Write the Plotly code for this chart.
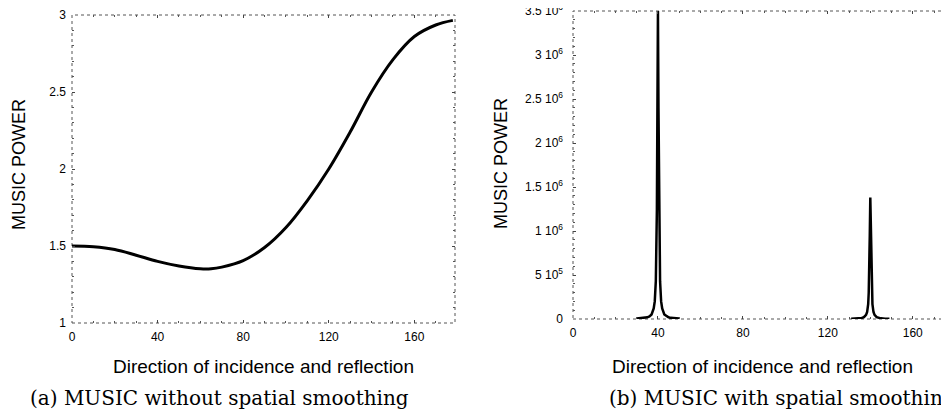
import plotly.graph_objects as go

# ---- data ----
angle_a = [0, 10, 20, 30, 40, 50, 60, 65, 70, 80, 90, 100, 110, 120, 130, 140, 150, 160, 170, 178]
power_a = [1.50, 1.495, 1.477, 1.44, 1.40, 1.37, 1.352, 1.352, 1.363, 1.405, 1.49, 1.62, 1.795, 2.0, 2.24, 2.50, 2.71, 2.86, 2.935, 2.965]

angle_b1 = [30, 32, 34, 35, 36, 37, 38, 38.5, 39, 39.25, 39.5, 39.75, 40, 40.25, 40.5, 40.75, 41, 41.5, 42, 43, 44, 45, 46, 48, 50]
power_b1 = [5e3, 8e3, 1.3e4, 1.9e4, 3e4, 5.2e4, 1.2e5, 2e5, 4.3e5, 7.5e5, 1.24e6, 2.4e6, 3.5e6, 2.4e6, 1.24e6, 7.5e5, 4.3e5, 2e5, 1.2e5, 5.2e4, 3e4, 1.9e4, 1.3e4, 8e3, 5e3]
angle_b2 = [131, 133, 135, 136, 137, 138, 138.5, 139, 139.25, 139.5, 139.75, 140, 140.25, 140.5, 140.75, 141, 141.5, 142, 143, 144, 145, 147, 149]
power_b2 = [2.5e3, 4e3, 7.5e3, 1.2e4, 2.1e4, 4.7e4, 7.9e4, 1.7e5, 2.96e5, 4.9e5, 9.5e5, 1.38e6, 9.5e5, 4.9e5, 2.96e5, 1.7e5, 7.9e4, 4.7e4, 2.1e4, 1.2e4, 7.5e3, 4e3, 2.5e3]

x_ticks = [0, 40, 80, 120, 160]
ya_ticks = [1, 1.5, 2, 2.5, 3]
ya_text = ["1", "1.5", "2", "2.5", "3"]
yb_ticks = [0, 5e5, 1e6, 1.5e6, 2e6, 2.5e6, 3e6, 3.5e6]
yb_text = ["0", "5 10<sup>5</sup>", "1 10<sup>6</sup>", "1.5 10<sup>6</sup>", "2 10<sup>6</sup>",
           "2.5 10<sup>6</sup>", "3 10<sup>6</sup>", "3.5 10<sup>6</sup>"]

x_title = "Direction of incidence and reflection"
y_title = "MUSIC POWER"
cap_a = "(a) MUSIC without spatial smoothing"
cap_b = "(b) MUSIC with spatial smoothing"

W, H = 949, 419
OFF = 8  # page body margin
def px(x): return (x - OFF) / W
def py(y): return 1 - (y - OFF) / H

fig = go.Figure()
fig.add_trace(go.Scatter(x=angle_a, y=power_a, mode="lines", line=dict(color="black", width=3, shape="spline"),
                         xaxis="x", yaxis="y", showlegend=False))
fig.add_trace(go.Scatter(x=angle_b1, y=power_b1, mode="lines", line=dict(color="black", width=2.5),
                         xaxis="x2", yaxis="y2", showlegend=False))
fig.add_trace(go.Scatter(x=angle_b2, y=power_b2, mode="lines", line=dict(color="black", width=2.5),
                         xaxis="x2", yaxis="y2", showlegend=False))

tickfont = dict(family="Liberation Sans, Arial", size=12, color="black")
common = dict(showgrid=False, zeroline=False, showline=False, ticks="inside", ticklen=3,
              tickcolor="#444", tickwidth=1, mirror="ticks", tickfont=tickfont, automargin=False,
              ticklabeloverflow="allow")

fig.update_layout(
    width=W, height=H, margin=dict(l=0, r=0, t=0, b=0, autoexpand=False),
    paper_bgcolor="white", plot_bgcolor="white",
    xaxis=dict(domain=[px(72), px(455)], range=[0, 179], tickvals=x_ticks, anchor="y", ticklabelstandoff=5,
               minor=dict(dtick=10, ticks="inside", ticklen=2, tickcolor="#555"), **common),
    yaxis=dict(domain=[py(323), py(15)], range=[1, 3], tickvals=ya_ticks, ticktext=ya_text, anchor="x",
               ticklabelstandoff=5,
               minor=dict(dtick=0.1, ticks="inside", ticklen=2, tickcolor="#555"), **common),
    xaxis2=dict(domain=[px(573), px(951)], range=[0, 178], tickvals=x_ticks, anchor="y2", ticklabelstandoff=5,
                minor=dict(dtick=10, ticks="inside", ticklen=2, tickcolor="#555"), **common),
    yaxis2=dict(domain=[py(319), py(11)], range=[0, 3.5e6], tickvals=yb_ticks, ticktext=yb_text, anchor="x2",
                ticklabelstandoff=9,
                minor=dict(dtick=1e5, ticks="inside", ticklen=2, tickcolor="#555"), **common),
)

# dotted frames
for xr, yr in [("x domain", "y domain"), ("x2 domain", "y2 domain")]:
    fig.add_shape(type="rect", xref=xr, yref=yr, x0=0, x1=1, y0=0, y1=1,
                  line=dict(color="#555", width=1, dash="dot"), layer="below")

xtf = dict(family="Liberation Sans, Arial", size=19, color="black")
ytf = dict(family="Liberation Sans, Arial", size=18, color="black")
capf = dict(family="DejaVu Serif", size=20, color="black")
ann = [
    dict(x=px(264), y=py(366), text=x_title, font=xtf),
    dict(x=px(762), y=py(366), text=x_title, font=xtf),
    dict(x=px(19), y=py(165), text=y_title, font=ytf, textangle=-90),
    dict(x=px(501), y=py(164), text=y_title, font=ytf, textangle=-90),
    dict(x=px(219), y=py(398), text=cap_a, font=capf),
    dict(x=px(607), y=py(398), text=cap_b, xanchor="left", font=capf),
]
for a in ann:
    a.setdefault("xanchor", "center")
    fig.add_annotation(xref="paper", yref="paper", yanchor="middle", showarrow=False, **a)

fig.write_html("out.html")
